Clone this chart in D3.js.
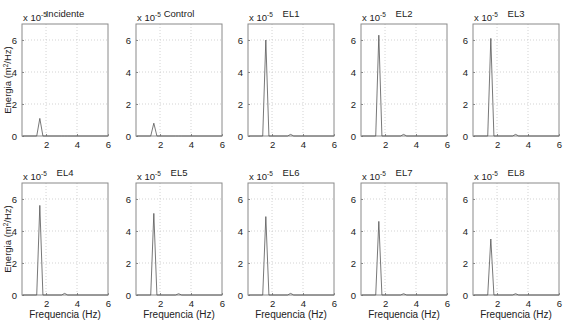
<!DOCTYPE html>
<html><head><meta charset="utf-8">
<script src="https://cdn.jsdelivr.net/npm/d3@7"></script>
<style>body{margin:0;background:#fff}svg{display:block}</style>
</head><body><svg id="c" width="566" height="331"></svg>
<script>
const titles = ["Incidente","Control","EL1","EL2","EL3","EL4","EL5","EL6","EL7","EL8"];
const freqs = [0.5, 1.4, 1.6, 1.8, 3.0, 3.2, 3.4, 6.0];
const peaks = [1.1, 0.8, 6.0, 6.3, 6.1, 5.6, 5.1, 4.9, 4.6, 3.5];
const bumps = [0, 0, 0.1, 0.1, 0.1, 0.1, 0.08, 0.1, 0.08, 0.08];
const xTicks = [2, 4, 6];
const yTicks = [0, 2, 4, 6];

const svg = d3.select("#c");
const font = "Liberation Sans, Arial, sans-serif";
const colLeft = [22, 136, 248, 361, 473];
const rowTop = [24, 183];
const W = 86, H = 112;

titles.forEach((t, i) => {
  const r = Math.floor(i / 5), c = i % 5;
  const x0 = colLeft[c], y0 = rowTop[r];
  const g = svg.append("g").attr("transform", `translate(${x0},${y0})`);
  const x = d3.scaleLinear().domain([0.45, 6]).range([0, W]);
  const y = d3.scaleLinear().domain([0, 7]).range([H, 0]);
  const vals = [0, 0, peaks[i], 0, 0, bumps[i], 0, 0];

  // grid
  g.selectAll(".gx").data(xTicks.filter(v => v < 6)).join("line")
    .attr("x1", d => x(d)).attr("x2", d => x(d)).attr("y1", 0).attr("y2", H)
    .attr("stroke", "#c8c8c8").attr("stroke-width", 0.8).attr("stroke-dasharray", "1,2");
  g.selectAll(".gy").data(yTicks.filter(v => v > 0)).join("line")
    .attr("x1", 0).attr("x2", W).attr("y1", d => y(d)).attr("y2", d => y(d))
    .attr("stroke", "#c8c8c8").attr("stroke-width", 0.8).attr("stroke-dasharray", "1,2");

  // box
  g.append("rect").attr("x", 0).attr("y", 0).attr("width", W).attr("height", H)
    .attr("fill", "none").attr("stroke", "#8a8a8a").attr("stroke-width", 1);

  // inward ticks
  const fmt = d3.format("d");
  const xa = d3.axisBottom(x).tickValues(xTicks).tickFormat(fmt).tickSizeInner(-2).tickSizeOuter(0).tickPadding(5);
  const ya = d3.axisLeft(y).tickValues(yTicks).tickFormat(fmt).tickSizeInner(-2).tickSizeOuter(0).tickPadding(5);
  const gx = g.append("g").attr("transform", `translate(0,${H})`).call(xa);
  const gy = g.append("g").call(ya);
  [gx, gy].forEach(a => {
    a.select(".domain").remove();
    a.selectAll("line").attr("stroke", "#8a8a8a");
    a.selectAll("text").attr("font-family", font).attr("font-size", 9.5).attr("fill", "#222");
  });

  // data line
  const line = d3.line().x((d, k) => x(freqs[k])).y(d => y(d));
  g.append("path").datum(vals).attr("d", line)
    .attr("fill", "none").attr("stroke", "#555").attr("stroke-width", 0.8);

  // exponent
  const ex = g.append("text").attr("x", 1).attr("y", -3)
    .attr("font-family", font).attr("font-size", 9.5).attr("fill", "#222");
  ex.append("tspan").text("x 10");
  ex.append("tspan").attr("dy", -4).attr("font-size", 6.5).text("-5");

  // title
  g.append("text").attr("x", W / 2).attr("y", -7).attr("text-anchor", "middle")
    .attr("font-family", font).attr("font-size", 9.5).attr("fill", "#222").text(t);

  if (c === 0) {
    const yl = g.append("text").attr("transform", `translate(-11,${H / 2}) rotate(-90)`)
      .attr("text-anchor", "middle").attr("font-family", font).attr("font-size", 9.5).attr("fill", "#222");
    yl.append("tspan").text("Energia (m");
    yl.append("tspan").attr("dy", -3).attr("font-size", 6.5).text("2");
    yl.append("tspan").attr("dy", 3).text("/Hz)");
  }
  if (r === 1) {
    g.append("text").attr("x", W / 2).attr("y", H + 23).attr("text-anchor", "middle")
      .attr("font-family", font).attr("font-size", 10).attr("fill", "#222").text("Frequencia (Hz)");
  }
});
</script></body></html>
